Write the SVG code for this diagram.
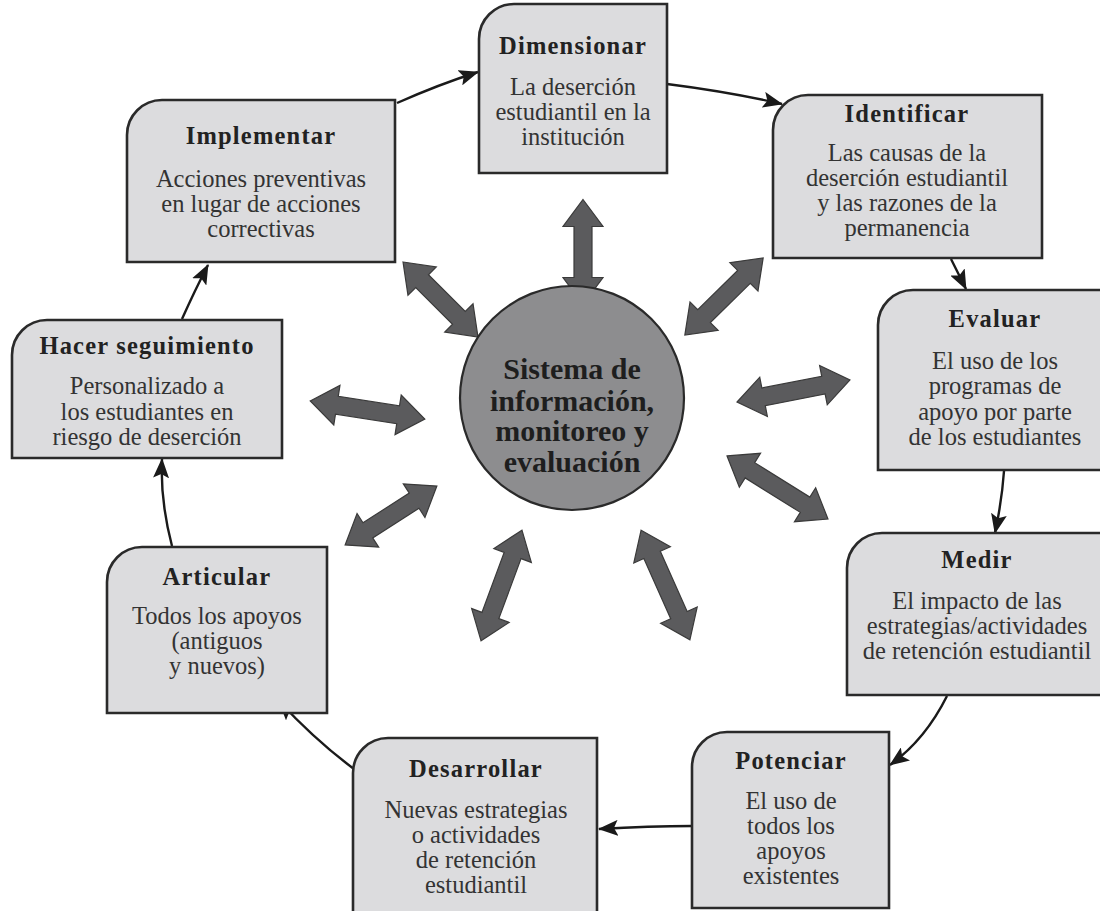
<svg xmlns="http://www.w3.org/2000/svg" width="1100" height="911" viewBox="0 0 1100 911">
  <defs>
    <marker id="head" viewBox="0 0 20 16" refX="19" refY="8" markerWidth="20" markerHeight="16" markerUnits="userSpaceOnUse" orient="auto">
      <path d="M0,0 L20,8 L0,16 L4,8 Z" fill="#1a1a1a"/>
    </marker>
    <style>
      .box { fill: #dcdcde; stroke: #2a2a2a; stroke-width: 2.6; }
      .title { font-family: "Liberation Serif", "DejaVu Serif", serif; font-weight: bold; font-size: 24.5px; fill: #222; text-anchor: middle; letter-spacing: 1.2px; }
      .body { font-family: "Liberation Serif", "DejaVu Serif", serif; font-size: 24.5px; fill: #333; text-anchor: middle; }
      .hub { fill: #8d8d8f; stroke: #2a2a2a; stroke-width: 2.2; }
      .hubtext { font-family: "Liberation Serif", "DejaVu Serif", serif; font-weight: bold; font-size: 30px; fill: #1e1e1e; text-anchor: middle; }
      .link { fill: none; stroke: #1a1a1a; stroke-width: 2.4; marker-end: url(#head); }
      .dbl { fill: #5b5b5d; stroke: #3a3a3a; stroke-width: 1.2; stroke-linejoin: miter; }
    </style>
  </defs>

  <rect width="1100" height="911" fill="#ffffff"/>

  <!-- cycle connectors between the stages -->
  <g id="connectors">
    <path class="link" d="M397,103 Q440,84 478,72"/>
    <path class="link" d="M667,84 Q730,92 782,104"/>
    <path class="link" d="M951,259 L966,289"/>
    <path class="link" d="M1004,471 Q1002,500 995,533"/>
    <path class="link" d="M947,696 Q925,740 890,765"/>
    <path class="link" d="M692,826 Q650,826 599,829"/>
    <path class="link" d="M354,769 Q315,740 279,701"/>
    <path class="link" d="M172,546 Q160,500 162,459"/>
    <path class="link" d="M182,319 Q195,290 208,265"/>
  </g>

  <!-- two-way arrows between the hub and each stage -->
  <g id="hub-links">
    <path class="dbl" transform="translate(583,252) rotate(90)" d="M-52.5,0 L-25.5,-20 L-25.5,-9 L25.5,-9 L25.5,-20 L52.5,0 L25.5,20 L25.5,9 L-25.5,9 L-25.5,20 Z"/>
    <path class="dbl" transform="translate(440.5,299.5) rotate(45)" d="M-53,0 L-26,-20 L-26,-9 L26,-9 L26,-20 L53,0 L26,20 L26,9 L-26,9 L-26,20 Z"/>
    <path class="dbl" transform="translate(724,296.5) rotate(-44.6)" d="M-55,0 L-28,-20 L-28,-9 L28,-9 L28,-20 L55,0 L28,20 L28,9 L-28,9 L-28,20 Z"/>
    <path class="dbl" transform="translate(367.5,410) rotate(8.9)" d="M-58,0 L-31,-20 L-31,-9 L31,-9 L31,-20 L58,0 L31,20 L31,9 L-31,9 L-31,20 Z"/>
    <path class="dbl" transform="translate(793.5,391) rotate(-11)" d="M-57.5,0 L-30.5,-20 L-30.5,-9 L30.5,-9 L30.5,-20 L57.5,0 L30.5,20 L30.5,9 L-30.5,9 L-30.5,20 Z"/>
    <path class="dbl" transform="translate(391,515.5) rotate(-32.7)" d="M-54.5,0 L-27.5,-20 L-27.5,-9 L27.5,-9 L27.5,-20 L54.5,0 L27.5,20 L27.5,9 L-27.5,9 L-27.5,20 Z"/>
    <path class="dbl" transform="translate(777.5,487.5) rotate(32)" d="M-59.5,0 L-32.5,-20 L-32.5,-9 L32.5,-9 L32.5,-20 L59.5,0 L32.5,20 L32.5,9 L-32.5,9 L-32.5,20 Z"/>
    <path class="dbl" transform="translate(501.5,585.5) rotate(-69.7)" d="M-59,0 L-32,-20 L-32,-9 L32,-9 L32,-20 L59,0 L32,20 L32,9 L-32,9 L-32,20 Z"/>
    <path class="dbl" transform="translate(665.5,585) rotate(66)" d="M-60,0 L-33,-20 L-33,-9 L33,-9 L33,-20 L60,0 L33,20 L33,9 L-33,9 L-33,20 Z"/>
  </g>

  <g id="hub">
    <circle class="hub" cx="572" cy="398" r="112"/>
    <text class="hubtext" x="572" y="379">Sistema de</text>
    <text class="hubtext" x="572" y="411">información,</text>
    <text class="hubtext" x="572" y="441">monitoreo y</text>
    <text class="hubtext" x="572" y="472">evaluación</text>
  </g>

  <g id="dimensionar">
    <path class="box" d="M479,173 V39 A35,35 0 0 1 514,4 H667 V173 Z"/>
    <text class="title" x="573" y="54">Dimensionar</text>
    <text class="body" x="573" y="95">La deserción</text>
    <text class="body" x="573" y="120">estudiantil en la</text>
    <text class="body" x="573" y="145">institución</text>
  </g>

  <g id="identificar">
    <path class="box" d="M773,258 V130 A35,35 0 0 1 808,95 H1042 V258 Z"/>
    <text class="title" x="907" y="122">Identificar</text>
    <text class="body" x="907" y="161">Las causas de la</text>
    <text class="body" x="907" y="186">deserción estudiantil</text>
    <text class="body" x="907" y="211">y las razones de la</text>
    <text class="body" x="907" y="236">permanencia</text>
  </g>

  <g id="evaluar">
    <path class="box" d="M878,470 V325 A35,35 0 0 1 913,290 H1112 V470 Z"/>
    <text class="title" x="995" y="327">Evaluar</text>
    <text class="body" x="995" y="369">El uso de los</text>
    <text class="body" x="995" y="394">programas de</text>
    <text class="body" x="995" y="420">apoyo por parte</text>
    <text class="body" x="995" y="445">de los estudiantes</text>
  </g>

  <g id="medir">
    <path class="box" d="M847,695 V568 A35,35 0 0 1 882,533 H1112 V695 Z"/>
    <text class="title" x="977" y="568">Medir</text>
    <text class="body" x="977" y="609">El impacto de las</text>
    <text class="body" x="977" y="634">estrategias/actividades</text>
    <text class="body" x="977" y="659">de retención estudiantil</text>
  </g>

  <g id="potenciar">
    <path class="box" d="M692,908 V767 A35,35 0 0 1 727,732 H889 V908 Z"/>
    <text class="title" x="791" y="769">Potenciar</text>
    <text class="body" x="791" y="809">El uso de</text>
    <text class="body" x="791" y="834">todos los</text>
    <text class="body" x="791" y="859">apoyos</text>
    <text class="body" x="791" y="884">existentes</text>
  </g>

  <g id="desarrollar">
    <path class="box" d="M353,915 V773 A35,35 0 0 1 388,738 H597 V915 Z"/>
    <text class="title" x="476" y="777">Desarrollar</text>
    <text class="body" x="476" y="818">Nuevas estrategias</text>
    <text class="body" x="476" y="843">o actividades</text>
    <text class="body" x="476" y="868">de retención</text>
    <text class="body" x="476" y="893">estudiantil</text>
  </g>

  <g id="articular">
    <path class="box" d="M107,713 V582 A35,35 0 0 1 142,547 H327 V713 Z"/>
    <text class="title" x="217" y="585">Articular</text>
    <text class="body" x="217" y="624">Todos los apoyos</text>
    <text class="body" x="217" y="649">(antiguos</text>
    <text class="body" x="217" y="674">y nuevos)</text>
  </g>

  <g id="hacer-seguimiento">
    <path class="box" d="M12,458 V355 A35,35 0 0 1 47,320 H282 V458 Z"/>
    <text class="title" x="147" y="354">Hacer seguimiento</text>
    <text class="body" x="147" y="394">Personalizado a</text>
    <text class="body" x="147" y="420">los estudiantes en</text>
    <text class="body" x="147" y="445">riesgo de deserción</text>
  </g>

  <g id="implementar">
    <path class="box" d="M127,262 V135 A35,35 0 0 1 162,100 H395 V262 Z"/>
    <text class="title" x="261" y="144">Implementar</text>
    <text class="body" x="261" y="187">Acciones preventivas</text>
    <text class="body" x="261" y="212">en lugar de acciones</text>
    <text class="body" x="261" y="237">correctivas</text>
  </g>
</svg>
